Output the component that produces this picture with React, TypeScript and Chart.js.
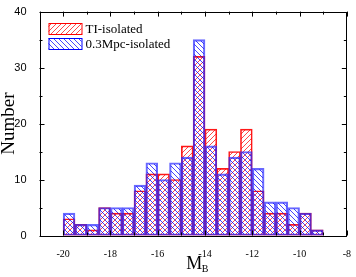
import React, { useEffect, useRef } from "react";
import { Chart, registerables } from "chart.js";

Chart.register(...registerables);

// Bin left edges (bin width 0.5 mag)
const binStarts = [-20, -19.5, -19, -18.5, -18, -17.5, -17, -16.5, -16, -15.5, -15, -14.5, -14, -13.5, -13, -12.5, -12, -11.5, -11, -10.5, -10, -9.5];
const binWidth = 0.5;
const tiIsolated = [3, 2, 1, 5, 4, 4, 8, 11, 11, 10, 16, 32, 19, 12, 15, 19, 8, 4, 4, 2, 4, 1];
const mpcIsolated = [4, 2, 2, 5, 5, 5, 9, 13, 10, 13, 14, 35, 16, 11, 14, 15, 12, 6, 6, 5, 4, 1];
const xTicks = [-20, -18, -16, -14, -12, -10, -8];
const xMinorTicks = [-21, -20, -19, -18, -17, -16, -15, -14, -13, -12, -11, -10, -9, -8];
const yTicks = [0, 10, 20, 30, 40];
const yMinorTicks = [5, 15, 25, 35];
const seriesNames = ["TI-isolated", "0.3Mpc-isolated"];

function makeHatch(ctx: CanvasRenderingContext2D, color: string, dir: number) {
  const c = document.createElement("canvas");
  const s = 5;
  c.width = s;
  c.height = s;
  const g = c.getContext("2d")!;
  g.strokeStyle = color;
  g.lineWidth = 1;
  g.beginPath();
  if (dir > 0) {
    g.moveTo(-1, s + 1); g.lineTo(s + 1, -1);
    g.moveTo(-1, 1); g.lineTo(1, -1);
    g.moveTo(s - 1, s + 1); g.lineTo(s + 1, s - 1);
  } else {
    g.moveTo(-1, -1); g.lineTo(s + 1, s + 1);
    g.moveTo(-1, s - 1); g.lineTo(1, s + 1);
    g.moveTo(s - 1, -1); g.lineTo(s + 1, 1);
  }
  g.stroke();
  return ctx.createPattern(c, "repeat")!;
}

export default function App() {
  const ref = useRef<HTMLCanvasElement>(null);
  useEffect(() => {
    document.body.style.margin = "0";
    const canvas = ref.current!;
    const ctx = canvas.getContext("2d")!;
    const redHatch = makeHatch(ctx, "rgba(255,0,0,0.72)", 1);
    const blueHatch = makeHatch(ctx, "rgba(0,0,255,0.72)", -1);

    const framePlugin = {
      id: "frame",
      afterDraw(chart: any) {
        const { ctx, chartArea: a, scales } = chart;
        const xs = scales.x, ys = scales.y;
        ctx.save();
        ctx.strokeStyle = "#000";
        ctx.lineWidth = 1;
        ctx.beginPath();
        ctx.rect(Math.round(a.left) + 0.5, Math.round(a.top) + 0.5, Math.round(a.right - a.left) - 1, Math.round(a.bottom - a.top));
        ctx.stroke();
        ctx.beginPath();
        for (const v of xMinorTicks) {
          const px = Math.round(xs.getPixelForValue(v)) + 0.5;
          const len = xTicks.includes(v) ? 5 : 3;
          ctx.moveTo(px, a.top); ctx.lineTo(px, a.top + len);
          ctx.moveTo(px, a.bottom); ctx.lineTo(px, a.bottom - len);
        }
        for (const v of [...yTicks, ...yMinorTicks]) {
          const py = Math.round(ys.getPixelForValue(v)) + 0.5;
          const len = yTicks.includes(v) ? 5 : 3;
          ctx.moveTo(a.left, py); ctx.lineTo(a.left + len, py);
          ctx.moveTo(a.right, py); ctx.lineTo(a.right - len, py);
        }
        ctx.stroke();

        // legend
        const fills = [redHatch, blueHatch];
        const strokes = ["#ff0000", "#0000ff"];
        const lx = a.left + 9, ly = [23, 38];
        ctx.font = "13px 'Liberation Serif', serif";
        ctx.textBaseline = "middle";
        ctx.fillStyle = "#000";
        seriesNames.forEach((n, i) => {
          ctx.fillStyle = fills[i];
          ctx.fillRect(lx, ly[i], 33, 11);
          ctx.strokeStyle = strokes[i];
          ctx.lineWidth = 1;
          ctx.strokeRect(lx + 0.5, ly[i] + 0.5, 33, 11);
          ctx.fillStyle = "#000";
          ctx.fillText(n, lx + 37, ly[i] + 6.5);
        });

        // x title M_B
        ctx.fillStyle = "#000";
        ctx.textBaseline = "alphabetic";
        ctx.font = "18px 'Liberation Serif', serif";
        ctx.textAlign = "left";
        const mw = ctx.measureText("M").width;
        const tx = (a.left + a.right) / 2 + 1;
        ctx.fillText("M", tx - mw / 2, 269);
        ctx.font = "10px 'Liberation Serif', serif";
        ctx.fillText("B", tx + mw / 2 - 0.5, 272);
        ctx.restore();
      },
    };

    const chart = new Chart(canvas, {
      type: "bar",
      data: {
        datasets: [
          {
            label: seriesNames[0],
            data: binStarts.map((b, i) => ({ x: b + binWidth / 2, y: tiIsolated[i] })),
            backgroundColor: redHatch,
            borderColor: "rgba(255,0,0,0.9)",
            borderWidth: 1,
            borderSkipped: false,
            order: 2,
          },
          {
            label: seriesNames[1],
            data: binStarts.map((b, i) => ({ x: b + binWidth / 2, y: mpcIsolated[i] })),
            backgroundColor: blueHatch,
            borderColor: "rgba(40,40,255,0.7)",
            borderWidth: 1.5,
            borderSkipped: false,
            order: 1,
          },
        ],
      },
      options: {
        animation: false,
        responsive: false,
        grouped: false,
        barPercentage: 1,
        categoryPercentage: 1,
        layout: { padding: { top: 5, right: 4, left: 0, bottom: 0 } },
        plugins: { legend: { display: false }, tooltip: { enabled: false } },
        scales: {
          x: {
            type: "linear",
            min: -21,
            max: -8,
            offset: false,
            grid: { display: false },
            border: { display: false },
            afterBuildTicks: (s: any) => { s.ticks = xTicks.map((v) => ({ value: v })); },
            afterFit: (s: any) => { s.height = 41.5; },
            ticks: {
              padding: 5,
              color: "#000",
              font: { family: "'Liberation Serif', serif", size: 10 },
              maxRotation: 0,
            },
          },
          y: {
            min: 0,
            max: 40,
            grid: { display: false },
            border: { display: false },
            afterBuildTicks: (s: any) => { s.ticks = yTicks.map((v) => ({ value: v })); },
            afterFit: (s: any) => { s.width = 39.5; },
            ticks: {
              padding: 5,
              color: "#000",
              font: { family: "'Liberation Sans', sans-serif", size: 11 },
            },
            title: {
              display: true,
              text: "Number",
              color: "#000",
              font: { family: "'Liberation Serif', serif", size: 19, lineHeight: 1 },
              padding: { top: 0, bottom: 0 },
            },
          },
        },
      } as any,
      plugins: [framePlugin],
    });
    return () => chart.destroy();
  }, []);
  return <canvas ref={ref} width={356} height={277} style={{ display: "block" }} />;
}
